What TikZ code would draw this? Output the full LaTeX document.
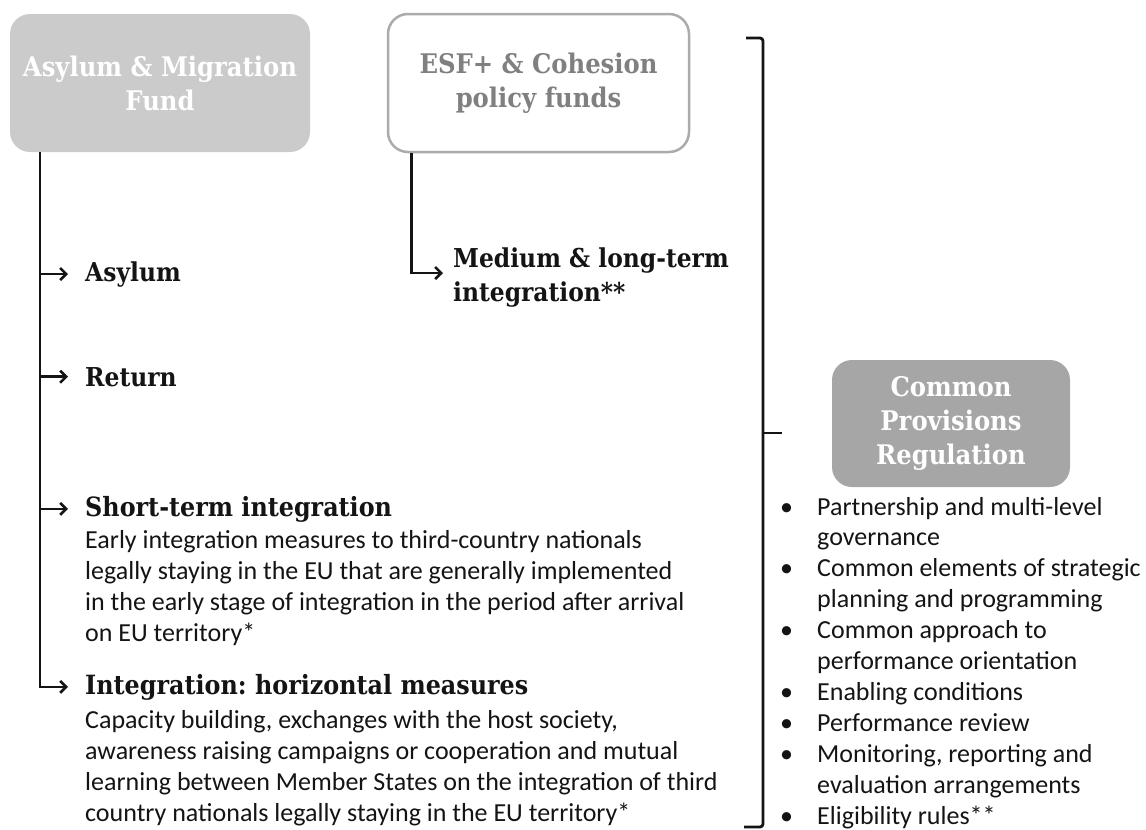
\documentclass[tikz,border=0pt]{standalone}
\usepackage{fontspec}
\setmainfont{Carlito}
\newfontfamily\headfont{DejaVu Serif}[FakeStretch=0.9]
\usetikzlibrary{arrows.meta}
\frenchspacing

\begin{document}
\begin{tikzpicture}[x=1pt,y=-1pt]
    \definecolor{fund_grey}{HTML}{CBCBCB}
    \definecolor{cpr_grey}{HTML}{A6A6A6}
    \definecolor{esf_line}{HTML}{ABABAB}
    \definecolor{esf_text}{HTML}{808080}
    \definecolor{ink}{HTML}{141414}
    \tikzset{
        fundbox/.style={rounded corners=20pt, align=center, inner sep=0pt,
            font=\headfont\bfseries\fontsize{27}{34}\selectfont},
        item/.style={anchor=base west, inner sep=0pt, align=left, text=ink,
            font=\headfont\bfseries\fontsize{26}{34}\selectfont},
        desc/.style={anchor=base west, inner sep=0pt, align=left, text=ink,
            font=\fontsize{26}{30.9}\selectfont},
        branch/.style={draw=ink, line width=2.6pt, -{Straight Barb[length=6pt,width=12pt]}},
        brace/.style={draw=ink, line width=2.8pt, rounded corners=3pt},
    }
    \useasboundingbox (0,0) rectangle (1146,830);
    %\draw[help lines] (0,0) grid[step=50] (1146,830);

    \node[fundbox, fill=fund_grey, text=white, minimum width=300pt, minimum height=138pt] (amf) at (160,83) {Asylum \& Migration\\Fund};
    \node[fundbox, draw=esf_line, line width=2.5pt, fill=white, text=esf_text, minimum width=301pt, minimum height=138pt] (esf) at (538.5,83) {ESF+ \& Cohesion\\policy funds};
    \node[fundbox, fill=cpr_grey, text=white, minimum width=238pt, minimum height=127pt] (cpr) at (951,423.5) {Common\\Provisions\\Regulation};

    % multi-line nodes sit on their last baseline
    \node[item] (asylum) at (85,281) {Asylum};
    \node[item] (return) at (85,386) {Return};
    \node[item, font=\headfont\bfseries\fontsize{26.5}{34}\selectfont] (short) at (85,516) {Short-term integration};
    \node[item, font=\headfont\bfseries\fontsize{26.5}{34}\selectfont] (horiz) at (85,694) {Integration: horizontal measures};
    \node[item] (medium) at (453,301) {Medium \& long-term\\integration**};

    \node[desc] (shortdesc) at (85,641) {Early integration measures to third-country nationals\\
        legally staying in the EU that are generally implemented\\
        in the early stage of integration in the period after arrival\\
        on EU territory*};
    \node[desc] (horizdesc) at (85,821) {Capacity building, exchanges with the host society,\\
        awareness raising campaigns or cooperation and mutual\\
        learning between Member States on the integration of third\\
        country nationals legally staying in the EU territory*};
    \node[desc] (cprlist) at (780,515) {\begin{tabular}[t]{@{}p{37pt}@{}l@{}}
        \textbullet & Partnership and multi-level\\
                    & governance\\
        \textbullet & Common elements of strategic\\
                    & planning and programming\\
        \textbullet & Common approach to\\
                    & performance orientation\\
        \textbullet & Enabling conditions\\
        \textbullet & Performance review\\
        \textbullet & Monitoring, reporting and\\
                    & evaluation arrangements\\
        \textbullet & Eligibility rules**
    \end{tabular}};

    % funds to their measures
    \draw[branch] ([xshift=30pt]amf.south west) |- ([xshift=-17pt]asylum.west);
    \draw[branch] ([xshift=30pt]amf.south west) |- ([xshift=-17pt]return.west);
    \draw[branch] ([xshift=30pt]amf.south west) |- ([xshift=-17pt]short.west);
    \draw[branch] ([xshift=30pt]amf.south west) |- ([xshift=-17pt]horiz.west);
    \draw[branch] ([xshift=25pt]esf.south west) |- ([xshift=-10pt,yshift=4pt]medium.west);

    % bracket over both funds
    \coordinate (bracetop) at (746,38);
    \coordinate (bracebot) at (744,827);
    \coordinate (bracemid) at (763,433);
    \draw[brace] (bracetop) -- (bracetop -| bracemid) -- (bracebot -| bracemid) -- (bracebot);
    \draw[brace] (bracemid) -- ++(19,0);
\end{tikzpicture}
\end{document}
